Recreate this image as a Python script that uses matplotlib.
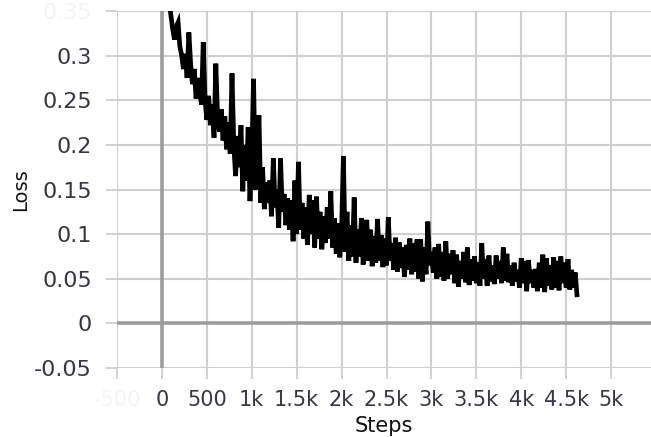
import numpy as np
import matplotlib
matplotlib.use("Agg")
import matplotlib.pyplot as plt

# training loss, every 20 steps starting at step 80
loss = [
    0.362, 0.345, 0.330, 0.318, 0.332, 0.337, 0.310, 0.300, 0.285, 0.302,
    0.275, 0.326, 0.290, 0.268, 0.285, 0.252, 0.275, 0.260, 0.245, 0.315,
    0.250, 0.228, 0.255, 0.222, 0.245, 0.208, 0.291, 0.230, 0.215, 0.240,
    0.205, 0.232, 0.195, 0.225, 0.190, 0.280, 0.200, 0.165, 0.210, 0.175,
    0.222, 0.148, 0.200, 0.160, 0.220, 0.137, 0.185, 0.274, 0.150, 0.190,
    0.233, 0.135, 0.175, 0.128, 0.158, 0.135, 0.160, 0.120, 0.185, 0.130,
    0.150, 0.107, 0.185, 0.125, 0.145, 0.110, 0.140, 0.105, 0.138, 0.092,
    0.160, 0.100, 0.181, 0.105, 0.135, 0.095, 0.130, 0.088, 0.144, 0.100,
    0.138, 0.085, 0.142, 0.095, 0.125, 0.083, 0.120, 0.090, 0.130, 0.095,
    0.148, 0.085, 0.118, 0.078, 0.112, 0.074, 0.105, 0.187, 0.080, 0.125,
    0.070, 0.110, 0.075, 0.141, 0.068, 0.105, 0.075, 0.118, 0.066, 0.100,
    0.116, 0.070, 0.105, 0.064, 0.098, 0.068, 0.117, 0.070, 0.099, 0.063,
    0.095, 0.065, 0.119, 0.070, 0.090, 0.060, 0.096, 0.058, 0.091, 0.062,
    0.085, 0.052, 0.088, 0.060, 0.095, 0.055, 0.090, 0.058, 0.094, 0.050,
    0.094, 0.047, 0.085, 0.055, 0.114, 0.065, 0.080, 0.057, 0.085, 0.050,
    0.089, 0.052, 0.080, 0.048, 0.092, 0.050, 0.078, 0.055, 0.082, 0.045,
    0.077, 0.041, 0.070, 0.050, 0.080, 0.046, 0.085, 0.043, 0.072, 0.048,
    0.075, 0.045, 0.068, 0.042, 0.090, 0.050, 0.072, 0.042, 0.076, 0.047,
    0.065, 0.044, 0.076, 0.050, 0.070, 0.045, 0.085, 0.048, 0.078, 0.046,
    0.065, 0.042, 0.068, 0.047, 0.060, 0.040, 0.073, 0.045, 0.070, 0.036,
    0.071, 0.045, 0.060, 0.040, 0.061, 0.036, 0.068, 0.040, 0.077, 0.035,
    0.073, 0.042, 0.065, 0.038, 0.074, 0.040, 0.070, 0.037, 0.075, 0.045,
    0.068, 0.040, 0.072, 0.038, 0.060, 0.040, 0.057, 0.032,
]
steps = np.arange(80, 80 + 20 * len(loss), 20)

x_ticks = [-500, 0, 500, 1000, 1500, 2000, 2500, 3000, 3500, 4000, 4500, 5000]
x_labels = ["-500", "0", "500", "1k", "1.5k", "2k", "2.5k", "3k", "3.5k", "4k", "4.5k", "5k"]
y_ticks = [-0.05, 0, 0.05, 0.1, 0.15, 0.2, 0.25, 0.3, 0.35]
y_labels = ["-0.05", "0", "0.05", "0.1", "0.15", "0.2", "0.25", "0.3", "0.35"]

GRID = "#cfcfcf"
ZERO = "#9c9c9c"
TXT = "#363744"
FADED = "#f5f5f5"

fig = plt.figure(figsize=(6.51, 4.37), dpi=100)
ax = fig.add_axes([117 / 651, 69 / 437, 1 - 117 / 651, 357 / 437])

ax.plot(steps, loss, color="black", linewidth=3.4, solid_joinstyle="miter", zorder=3)

ax.set_xlim(-500, 5444)
ax.set_ylim(-0.05, 0.35)
ax.set_xticks(x_ticks)
ax.set_xticklabels(x_labels)
ax.set_yticks(y_ticks)
ax.set_yticklabels(y_labels)

ax.grid(True, color=GRID, linewidth=1.5, zorder=0)
# zero lines sit above the grid
ax.axhline(0, color=ZERO, linewidth=2.6, zorder=2)
ax.axvline(0, color=ZERO, linewidth=2.6, zorder=2)
for s in ax.spines.values():
    s.set_visible(False)

ax.tick_params(axis="both", length=8, width=1.3, color=GRID, labelcolor=TXT)
ax.tick_params(axis="x", labelsize=15, pad=8)
ax.tick_params(axis="y", labelsize=16, pad=10)
# labels at the clipped ends are faded out
ax.get_xticklabels()[0].set_color(FADED)
ax.get_yticklabels()[-1].set_color(FADED)

ax.set_xlabel("Steps", fontsize=15, color="#111111", labelpad=4)
ax.set_ylabel("Loss", fontsize=14, color="#111111", labelpad=3)

fig.savefig("out.png", dpi=100)
